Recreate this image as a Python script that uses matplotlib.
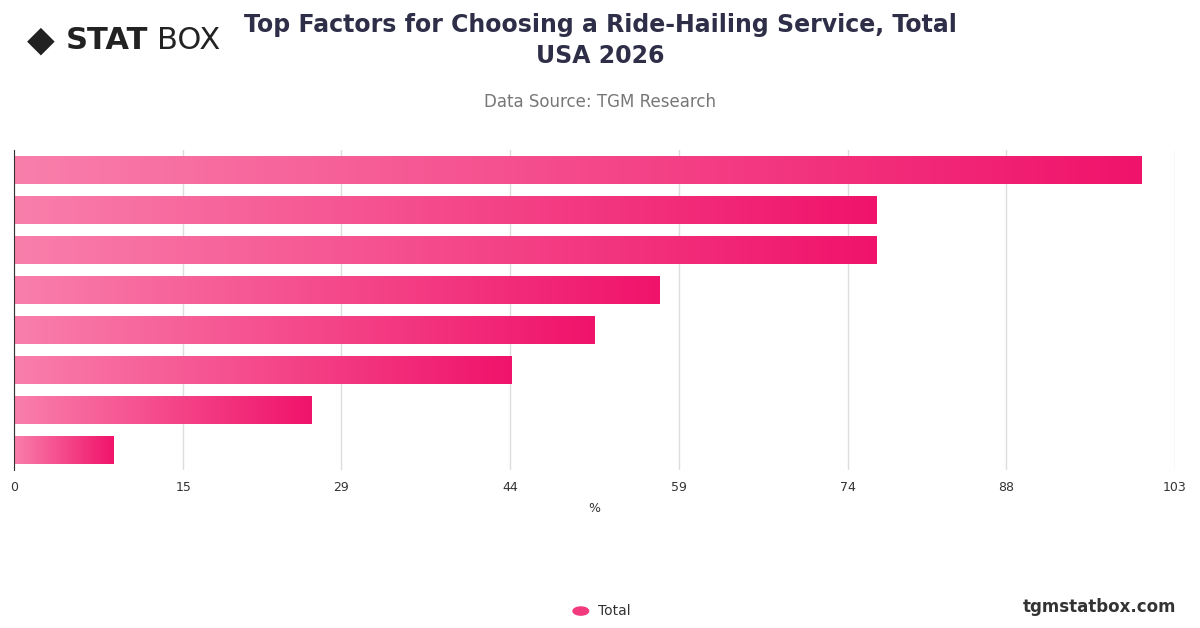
import matplotlib
matplotlib.use("Agg")
import matplotlib.pyplot as plt
import numpy as np
from matplotlib.colors import LinearSegmentedColormap

values = [100.0, 76.5, 76.5, 57.3, 51.5, 44.1, 26.4, 8.8]
ticks = [0, 15, 29, 44, 59, 74, 88, 103]
series_name = "Total"

fig = plt.figure(figsize=(12, 6.28), dpi=100)
ax = fig.add_axes([0.0117, 0.252, 0.9675, 0.509])
cmap = LinearSegmentedColormap.from_list("g", ["#f97fab", "#f0136b"])
grad = np.linspace(0, 1, 256).reshape(1, -1)
n = len(values)
ax.set_xlim(0, 103)
ax.set_ylim(n - 0.5, -0.5)
for i, v in enumerate(values):
    bars = ax.barh(i, v, height=0.7, color="none", edgecolor="none")
    im = ax.imshow(grad, cmap=cmap, aspect="auto", extent=[0, v, i + 0.35, i - 0.35], zorder=2)
    im.set_clip_path(bars[0])
ax.set_ylim(n - 0.5, -0.5)
ax.set_xticks(ticks)
ax.set_xticklabels([str(t) for t in ticks], fontsize=9, color="#333333")
ax.set_yticks([])
ax.grid(axis="x", color="#dddddd", linewidth=1, zorder=0)
ax.set_axisbelow(True)
for s in ["top", "right", "bottom"]:
    ax.spines[s].set_visible(False)
ax.spines["left"].set_color("#333333")
ax.tick_params(axis="x", length=0, pad=8)
ax.set_xlabel("%", fontsize=9, color="#333333", labelpad=6)

fig.text(0.5, 0.936, "Top Factors for Choosing a Ride-Hailing Service, Total\nUSA 2026",
         ha="center", va="center", fontsize=17, fontweight="bold", color="#2e2e48", linespacing=1.35)
fig.text(0.5, 0.838, "Data Source: TGM Research", ha="center", va="center", fontsize=12, color="#777777")

# logo
fig.text(0.022, 0.936, "◆", fontsize=26, color="#222222", ha="left", va="center")
fig.text(0.055, 0.936, "STAT", fontsize=22, fontweight="bold", color="#222222", ha="left", va="center")
fig.text(0.131, 0.936, "BOX", fontsize=22, color="#222222", ha="left", va="center")

fig.text(0.98, 0.034, "tgmstatbox.com", ha="right", va="center", fontsize=12, fontweight="bold", color="#333333")
fig.patches.append(plt.Circle((0.484, 0.027), 0.0065, transform=fig.transFigure, color="#f23a7e", figure=fig))
fig.text(0.498, 0.027, series_name, ha="left", va="center", fontsize=10, color="#333333")

fig.savefig("out.png", dpi=100, facecolor="white")
